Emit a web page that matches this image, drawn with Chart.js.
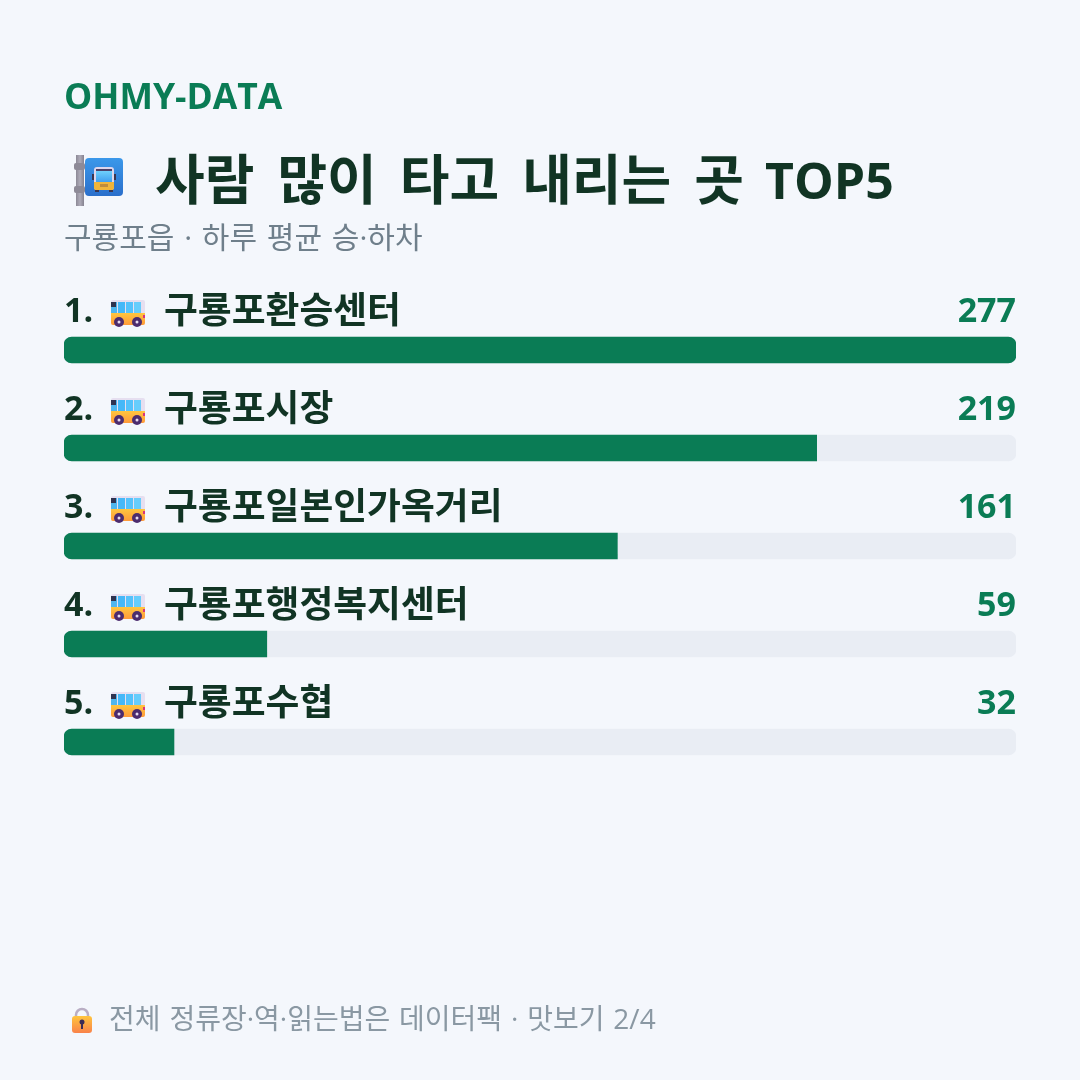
<!DOCTYPE html>
<html lang="ko">
<head>
<meta charset="utf-8">
<title>사람 많이 타고 내리는 곳 TOP5</title>
<script src="https://cdn.jsdelivr.net/npm/chart.js@4"></script>
<style>
  html, body { margin: 0; padding: 0; background: #f4f7fc; }
  #wrap { position: relative; width: 1080px; height: 1080px; }
</style>
</head>
<body>
<div id="wrap"><canvas id="stopChart" width="1080" height="1080"></canvas></div>
<script>
const brand = 'OHMY-DATA';
const heading = '사람 많이 타고 내리는 곳';
const headingTail = 'TOP5';
const subheading = '구룡포읍 · 하루 평균 승·하차';
const footnote = '전체 정류장·역·읽는법은 데이터팩 · 맛보기 2/4';

const stops = ['구룡포환승센터', '구룡포시장', '구룡포일본인가옥거리', '구룡포행정복지센터', '구룡포수협'];
const riders = [277, 219, 161, 59, 32];
const scaleMax = 277;

const GREEN = '#0a7c55';
const DARK = '#113424';
const GREY = '#6f7f8b';
const FAINT = '#8a98a3';
const TRACK = '#e9edf4';
const FONT = '"Open Sans", "Noto Sans CJK KR", sans-serif';

function setText(ctx, font, color, align, wordSpacing) {
  ctx.font = font + ' ' + FONT;
  ctx.fillStyle = color;
  ctx.textAlign = align || 'left';
  ctx.textBaseline = 'alphabetic';
  ctx.wordSpacing = wordSpacing || '0px';
}

function roundBox(ctx, x, y, w, h, r, fill) {
  ctx.beginPath();
  ctx.roundRect(x, y, w, h, r);
  ctx.fillStyle = fill;
  ctx.fill();
}

function vGrad(ctx, y0, y1, a, b) {
  const g = ctx.createLinearGradient(0, y0, 0, y1);
  g.addColorStop(0, a);
  g.addColorStop(1, b);
  return g;
}

// side view bus, 34 wide
function drawBus(ctx, x, y) {
  roundBox(ctx, x, y, 34, 16, [2, 2, 0, 0], '#e6dff0');
  roundBox(ctx, x, y + 2, 6, 11, 0, '#4fb6ee');
  ctx.fillStyle = '#2f3350';
  ctx.fillRect(x, y + 2, 5, 5);
  roundBox(ctx, x + 7, y + 2, 7, 11, 0, '#45b8f8');
  roundBox(ctx, x + 15, y + 2, 7, 11, 0, '#54c2fb');
  roundBox(ctx, x + 23, y + 2, 7, 11, 0, '#66cdfc');
  roundBox(ctx, x, y + 13, 34, 12, [0, 0, 2, 2], vGrad(ctx, y + 13, y + 25, '#ffc63f', '#ff9a3a'));
  ctx.fillStyle = '#d8347c';
  ctx.fillRect(x + 32, y + 15, 2, 3);
  for (const cx of [x + 8, x + 26]) {
    ctx.beginPath();
    ctx.arc(cx, y + 22, 5, 0, Math.PI * 2);
    ctx.fillStyle = '#4c2c6e';
    ctx.fill();
    ctx.beginPath();
    ctx.arc(cx, y + 22, 1.5, 0, Math.PI * 2);
    ctx.fillStyle = '#e8dcf0';
    ctx.fill();
  }
}

// bus stop sign on its pole
function drawStopSign(ctx, x, y) {
  const pole = ctx.createLinearGradient(x + 2, 0, x + 10, 0);
  pole.addColorStop(0, '#8c8996');
  pole.addColorStop(0.5, '#aeabb8');
  pole.addColorStop(1, '#85828f');
  ctx.fillStyle = pole;
  ctx.fillRect(x + 2, y, 8, 51);
  roundBox(ctx, x, y + 8, 11, 7, 2, '#8d8a97');
  roundBox(ctx, x, y + 31, 11, 7, 2, '#8d8a97');
  roundBox(ctx, x + 11, y + 3, 38, 38, 4, vGrad(ctx, y + 3, y + 41, '#3b98ea', '#2a6fcb'));
  ctx.fillStyle = '#3a3550';
  ctx.fillRect(x + 18, y + 19, 2, 6);
  ctx.fillRect(x + 40, y + 19, 2, 6);
  roundBox(ctx, x + 20, y + 12, 20, 23, 3, '#ddd6ec');
  ctx.fillStyle = '#4a3f68';
  ctx.fillRect(x + 22, y + 14, 16, 2);
  ctx.fillStyle = vGrad(ctx, y + 16, y + 27, '#6fd0fb', '#3f9ff0');
  ctx.fillRect(x + 22, y + 16, 16, 11);
  roundBox(ctx, x + 20, y + 27, 20, 8, [0, 0, 2, 2], '#f0b53a');
  ctx.fillStyle = '#c08c3a';
  ctx.fillRect(x + 26, y + 29, 8, 3);
  ctx.fillStyle = '#3a3550';
  ctx.fillRect(x + 21, y + 35, 4, 2);
  ctx.fillRect(x + 35, y + 35, 4, 2);
}

function drawLock(ctx, x, y) {
  ctx.beginPath();
  ctx.arc(x + 10, y + 8, 6, Math.PI, 0);
  ctx.lineTo(x + 16, y + 10);
  ctx.moveTo(x + 4, y + 8);
  ctx.lineTo(x + 4, y + 10);
  ctx.strokeStyle = '#b9aec4';
  ctx.lineWidth = 2.5;
  ctx.stroke();
  roundBox(ctx, x, y + 9, 20, 17, 3, vGrad(ctx, y + 9, y + 26, '#ffc53d', '#f9824a'));
  ctx.fillStyle = '#3c2c55';
  ctx.beginPath();
  ctx.arc(x + 10, y + 15, 2.5, 0, Math.PI * 2);
  ctx.fill();
  ctx.fillRect(x + 9, y + 16, 2, 6);
}

// header, footer and the text row above each bar
const cardText = {
  id: 'cardText',
  afterDatasetsDraw(chart) {
    const { ctx, scales: { x, y } } = chart;
    ctx.save();
    setText(ctx, '700 35.5px', GREEN);
    ctx.fillText(brand, 64, 109);
    drawStopSign(ctx, 74, 155);
    setText(ctx, '700 54px', DARK, 'left', '9px');
    ctx.fillText(heading, 155, 200);
    setText(ctx, '700 50px', DARK);
    ctx.fillText(headingTail, 765, 199);
    setText(ctx, '400 30px', GREY, 'left', '2px');
    ctx.fillText(subheading, 64, 248);

    riders.forEach((value, i) => {
      const base = y.getPixelForValue(i) - 28;
      setText(ctx, '700 34px', DARK);
      ctx.fillText((i + 1) + '.', 64, base);
      drawBus(ctx, x.left + 47, base - 22);
      setText(ctx, '700 36.8px', DARK);
      ctx.fillText(stops[i], 164, base + 1);
      setText(ctx, '700 34px', GREEN, 'right');
      ctx.fillText(String(value), x.right, base);
    });

    drawLock(ctx, 72, 1007);
    setText(ctx, '400 28px', FAINT, 'left', '1.6px');
    ctx.fillText(footnote, 109, 1029);
    ctx.restore();
  }
};

new Chart(document.getElementById('stopChart'), {
  type: 'bar',
  data: {
    labels: stops,
    datasets: [
      {
        label: '승·하차',
        data: riders,
        backgroundColor: GREEN,
        borderRadius: ctx => ({
          topLeft: 8,
          bottomLeft: 8,
          topRight: riders[ctx.dataIndex] === scaleMax ? 8 : 0,
          bottomRight: riders[ctx.dataIndex] === scaleMax ? 8 : 0
        }),
        order: 1
      },
      {
        label: '전체',
        data: stops.map(() => scaleMax),
        backgroundColor: TRACK,
        borderRadius: 8,
        order: 2
      }
    ]
  },
  options: {
    indexAxis: 'y',
    responsive: false,
    animation: false,
    events: [],
    layout: { padding: { left: 64, right: 64, top: 301, bottom: 289 } },
    datasets: { bar: { barThickness: 26, grouped: false, borderSkipped: false } },
    scales: {
      x: { display: false, min: 0, max: scaleMax },
      y: { display: false }
    },
    plugins: { legend: { display: false }, tooltip: { enabled: false }, title: { display: false } }
  },
  plugins: [cardText]
});
</script>
</body>
</html>
